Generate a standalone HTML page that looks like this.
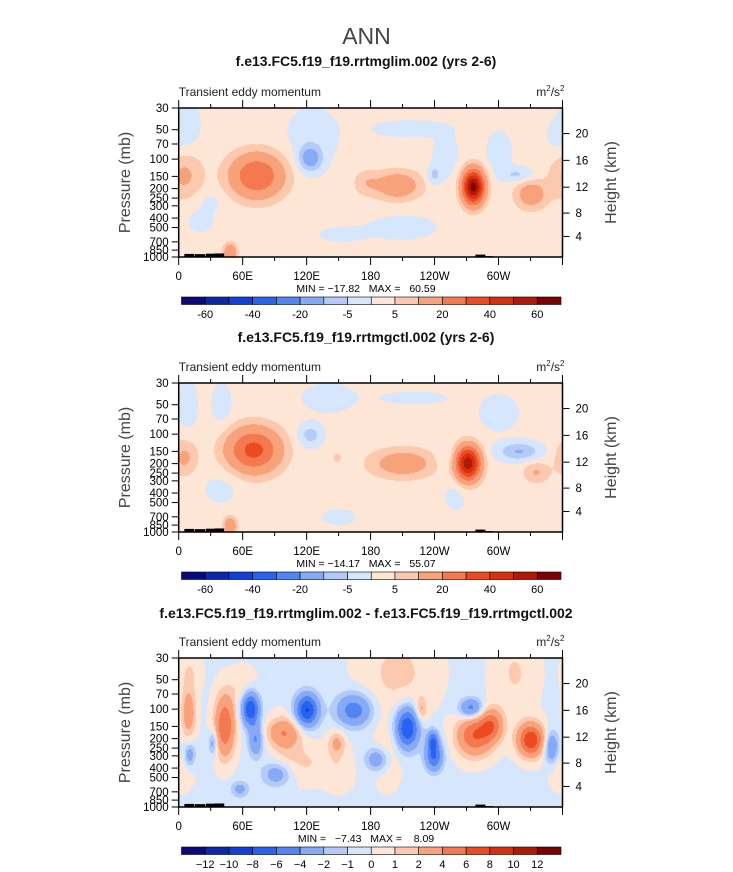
<!DOCTYPE html>
<html><head><meta charset="utf-8"><style>
body{margin:0;background:#fff;width:733px;height:872px;overflow:hidden;font-family:"Liberation Sans",sans-serif}
svg{position:absolute;left:0;top:0}
canvas{position:absolute}
text{white-space:pre}
</style></head><body>
<canvas id="c1"></canvas>
<canvas id="c2"></canvas>
<canvas id="c3"></canvas>
<svg id="s" width="733" height="872"></svg>
<script>
// ---- data ----
const colors=["#0a0a7a","#0a28a8","#1040d8","#2a62f0","#5284f2","#86aaf6","#b4cbf8","#d6e6fc","#fde6d6","#fcc8ae","#f8a27c","#f47850","#ee4a22","#d63010","#b01808","#7c0000"];
const levelsAB=[-60,-50,-40,-30,-20,-10,-5,0,5,10,20,30,40,50,60];
const levelsC=[-12,-10,-8,-6,-4,-2,-1,0,1,2,4,6,8,10,12];
const cbLabelsAB=["-60","-40","-20","-5","5","20","40","60"];
const cbLabelsC=["−12","−10","−8","−6","−4","−2","−1","0","1","2","4","6","8","10","12"];
const pTicks=[30,50,70,100,150,200,250,300,400,500,700,850,1000];
const hTicks=[4,8,12,16,20];
const lonTicks=[0,60,120,180,240,300];
const lonLabels=["0","60E","120E","180","120W","60W"];
// blobs: [lon, z(0 top..1 bottom), amplitude, lonWidth, zWidth]
const bg1=1.5, bg2=1.5, bg3=-0.2;
const blobs1=[[5,0.45,10,14,0.13],[73,0.455,28,20,0.12],[123,0.34,-15,9,0.07],[205,0.52,15,18,0.08],[175,0.5,6,10,0.07],[276,0.53,62,8,0.09],[330,0.58,14,12,0.08],[318,0.45,-8,12,0.04],[239,0.45,-8,5,0.05],[8,0.12,-4,10,0.15],[125,0.18,-4,20,0.15],[215,0.14,-3.5,30,0.05],[250,0.33,-4,10,0.12],[300,0.3,-4,10,0.12],[210,0.8,-3,30,0.08],[20,0.75,-3,12,0.08],[48,0.97,18,5,0.05],[150,0.85,-2.5,20,0.05],[30,0.62,-3,10,0.05],[355,0.2,-3,10,0.1]];
const blobs2=[[5,0.5,10,10,0.1],[70,0.45,32,20,0.12],[123,0.35,-9,9,0.06],[210,0.54,14,25,0.08],[148,0.5,4,6,0.05],[271,0.54,55,9,0.09],[319,0.46,-12,16,0.05],[335,0.6,9,10,0.06],[48,0.96,17,5,0.05],[8,0.15,-4,8,0.15],[40,0.15,-4,8,0.12],[140,0.1,-4,20,0.08],[220,0.1,-3,30,0.04],[300,0.2,-4,15,0.1],[250,0.5,-4,8,0.07],[40,0.7,-3,15,0.1],[150,0.9,-3,15,0.05],[260,0.75,-3,10,0.1]];
const blobs3=[[9,0.37,3.5,5,0.12],[43,0.455,6,7,0.15],[67,0.34,-8,6,0.08],[72,0.55,-4,5,0.08],[32,0.57,-3,3,0.06],[10,0.65,-3,4,0.06],[98,0.5,3.5,12,0.07],[120,0.35,-8,8,0.08],[164,0.35,-5,12,0.08],[148,0.57,2.5,6,0.06],[214,0.47,-8,8,0.1],[239,0.66,-6,6,0.07],[238,0.55,-5,4,0.05],[277,0.52,6,12,0.1],[330,0.55,8,9,0.08],[293,0.45,5,8,0.08],[274,0.34,-5,8,0.05],[349,0.6,-4,5,0.08],[227,0.35,2.5,4,0.06],[92,0.78,-3,10,0.06],[57,0.88,-2.5,6,0.04],[186,0.68,-3.5,8,0.06],[205,0.1,1.5,25,0.2],[315,0.1,1.3,15,0.2],[10,0.1,1.2,8,0.1],[195,0.65,1.2,10,0.15],[120,0.7,1.2,15,0.1],[60,0.2,1.0,10,0.1],[150,0.75,1.0,10,0.1],[100,0.6,1.0,10,0.15],[360,0.75,1.0,10,0.1]];
const topo=[[10,1000,930],[20,1000,935],[30,1000,925],[38,1000,920],[100,1000,990],[160,1000,990],[283,1000,945],[290,1000,980]];
// ---- layout ----
const X0=178.7,X1=562.5;
const panels=[{top:108,blobs:blobs1,bg:bg1,k:1.25,lev:levelsAB,cb:cbLabelsAB,cbStep:2,title:"f.e13.FC5.f19_f19.rrtmglim.002 (yrs 2-6)",ty:66,mm:"MIN = −17.82   MAX =   60.59",cv:"c1"},
{top:383,blobs:blobs2,bg:bg2,k:1.25,lev:levelsAB,cb:cbLabelsAB,cbStep:2,title:"f.e13.FC5.f19_f19.rrtmgctl.002 (yrs 2-6)",ty:342,mm:"MIN = −14.17   MAX =   55.07",cv:"c2"},
{top:658,blobs:blobs3,bg:bg3,k:1.35,lev:levelsC,cb:cbLabelsC,cbStep:1,title:"f.e13.FC5.f19_f19.rrtmglim.002 - f.e13.FC5.f19_f19.rrtmgctl.002",ty:618,mm:"MIN =   −7.43   MAX =    8.09",cv:"c3"}];
const H=149;
const xs=lon=>X0+lon/360*(X1-X0);
const zOfP=p=>Math.log(p/30)/Math.log(1000/30);
const pOfH=h=>{const m=h*1000;return m<=11000?1013.25*Math.pow(1-2.2558e-5*m,5.256):226.3*Math.exp(-(m-11000)/6341.6);};
const NS="http://www.w3.org/2000/svg";
const svg=document.getElementById('s');
function el(t,a,txt,parent){const e=document.createElementNS(NS,t);for(const k in a)e.setAttribute(k,a[k]);if(txt!==undefined)e.textContent=txt;(parent||svg).appendChild(e);return e;}
function field(blobs,bg,k,lon,z){let v=bg;for(const b of blobs){let dl=Math.abs(lon-b[0]);if(dl>180)dl=360-dl;v+=b[2]*Math.exp(-((dl/(b[3]*k))**2+((z-b[1])/(b[4]*k))**2));}return v;}
function lvl(v,lev){let i=0;while(i<lev.length&&v>=lev[i])i++;return i;}
let t=el('text',{x:366.5,y:44,'text-anchor':'middle','font-size':23,fill:'#444'},"ANN");

panels.forEach((P,pi)=>{
  const cv=document.getElementById(P.cv);
  const W=Math.round(X1-X0);
  cv.width=W;cv.height=H;cv.style.left=X0+'px';cv.style.top=P.top+'px';
  const ctx=cv.getContext('2d');
  for(let py=0;py<H;py++)for(let px=0;px<W;px++){
    const v=field(P.blobs,P.bg,P.k,(px+0.5)/W*360,(py+0.5)/H);
    ctx.fillStyle=colors[lvl(v,P.lev)];ctx.fillRect(px,py,1,1);
  }
  const T=P.top,B=T+H;
  const g=el('g',{});
  
  topo.forEach(tp=>{const yt=T+zOfP(tp[2])*H;const r=el('rect',{x:xs(tp[0])-5,y:yt,width:10,height:B-yt,fill:'#000'},undefined,g);
    });
  let f=el('rect',{x:X0,y:T,width:X1-X0,height:H,fill:'none',stroke:'#000','stroke-width':1.5},undefined,g);
  
  pTicks.forEach(p=>{const y=T+zOfP(p)*H;el('line',{x1:X0-7,x2:X0,y1:y,y2:y,stroke:'#000'},undefined,g);
    const l=el('text',{x:X0-10,y:y+4,'text-anchor':'end','font-size':11.5,fill:'#000'},p,g);
    });
  hTicks.forEach(h=>{const y=T+zOfP(pOfH(h))*H;el('line',{x1:X1,x2:X1+7,y1:y,y2:y,stroke:'#000'},undefined,g);
    const l=el('text',{x:X1+13,y:y+4,'font-size':11.5,fill:'#000'},h,g);
    });
  for(let lon=0;lon<=360;lon+=30){const x=xs(lon),len=lon%60?4:8;
    el('line',{x1:x,x2:x,y1:B,y2:B+len,stroke:'#000'},undefined,g);el('line',{x1:x,x2:x,y1:T,y2:T-len,stroke:'#000'},undefined,g);}
  lonTicks.forEach((lon,i)=>{const l=el('text',{x:xs(lon),y:B+23,'text-anchor':'middle','font-size':11.5,fill:'#000'},lonLabels[i],g);
    });
  let a=el('text',{x:0,y:0,'font-size':16,fill:'#444',transform:`translate(130,${T+H/2}) rotate(-90)`,'text-anchor':'middle'},"Pressure (mb)",g);
  
  a=el('text',{x:0,y:0,'font-size':16,fill:'#444',transform:`translate(616,${T+H/2}) rotate(-90)`,'text-anchor':'middle'},"Height (km)",g);
  
  a=el('text',{x:366,y:P.ty,'text-anchor':'middle','font-size':14,'font-weight':'bold',fill:'#111'},P.title,g);
  
  a=el('text',{x:X0,y:T-12,'font-size':12,fill:'#222'},"Transient eddy momentum",g);
  
  a=el('text',{x:X1+2,y:T-12,'text-anchor':'end','font-size':12,fill:'#222'},"",g);
  a.innerHTML='m<tspan dy="-5" font-size="8">2</tspan><tspan dy="5">/s</tspan><tspan dy="-5" font-size="8">2</tspan>';
  
  a=el('text',{x:366,y:B+35,'text-anchor':'middle','font-size':10.5,fill:'#000'},P.mm,g);
  
  const cy=B+40,cx0=181.5,cw=(561-181.5)/16;
  colors.forEach((c,i)=>{const r=el('rect',{x:cx0+i*cw,y:cy,width:cw,height:7.5,fill:c,stroke:'#000','stroke-width':0.6},undefined,g);
    });
  P.cb.forEach((s,i)=>{const bi=P.cbStep===2?1+2*i:1+i;
    const l=el('text',{x:cx0+bi*cw,y:cy+21,'text-anchor':'middle','font-size':11,fill:'#000'},s,g);
    });
});
</script>
</body></html>
